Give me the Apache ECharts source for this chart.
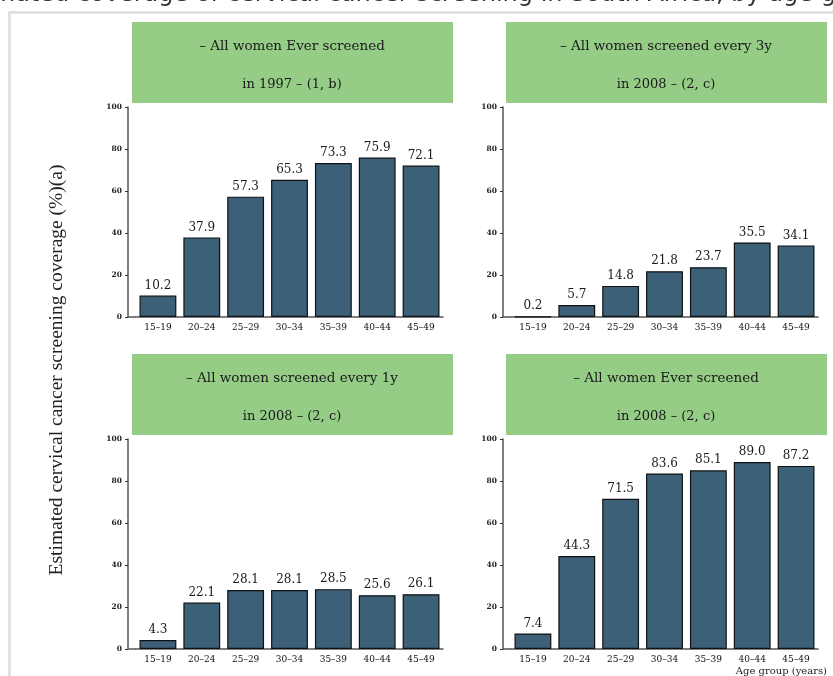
<!DOCTYPE html>
<html>
<head>
<meta charset="utf-8">
<title>Cervical cancer screening coverage</title>
<script src="https://cdn.jsdelivr.net/npm/echarts@6/dist/echarts.min.js"></script>
<style>
  html, body { margin: 0; padding: 0; background: #fff; }
  #chart { width: 833px; height: 676px; }
</style>
</head>
<body>
<div id="chart"></div>
<script>
// age groups shared by all four panels
var ageGroups = ['15\u201319', '20\u201324', '25\u201329', '30\u201334', '35\u201339', '40\u201344', '45\u201349'];
var yTicks = [0, 20, 40, 60, 80, 100];

var everScreened1997 = [10.2, 37.9, 57.3, 65.3, 73.3, 75.9, 72.1];
var every3y2008 = [0.2, 5.7, 14.8, 21.8, 23.7, 35.5, 34.1];
var every1y2008 = [4.3, 22.1, 28.1, 28.1, 28.5, 25.6, 26.1];
var everScreened2008 = [7.4, 44.3, 71.5, 83.6, 85.1, 89.0, 87.2];

var panelTitles = [
  ['\u2013 All women Ever screened', 'in 1997 \u2013 (1, b)'],
  ['\u2013 All women screened every 3y', 'in 2008 \u2013 (2, c)'],
  ['\u2013 All women screened every 1y', 'in 2008 \u2013 (2, c)'],
  ['\u2013 All women Ever screened', 'in 2008 \u2013 (2, c)']
];
var panelData = [everScreened1997, every3y2008, every1y2008, everScreened2008];

var serif = '"DejaVu Serif", serif';
var barColor = '#3d6079';

// layout of the 2x2 panels
var panels = [
  { left: 136, top: 107, boxX: 132, boxY: 22 },
  { left: 511, top: 107, boxX: 506, boxY: 22 },
  { left: 136, top: 439, boxX: 132, boxY: 354 },
  { left: 511, top: 439, boxX: 506, boxY: 354 }
];

var grids = [], xAxes = [], yAxes = [], series = [], graphics = [];

panels.forEach(function (p, i) {
  grids.push({ left: p.left, top: p.top, width: 307, height: 210 });
  xAxes.push({
    type: 'category', gridIndex: i, data: ageGroups,
    axisLine: { lineStyle: { color: '#555', width: 1.5 } },
    axisTick: { show: false },
    axisLabel: { fontFamily: serif, fontSize: 9, color: '#111', margin: 6, interval: 0 }
  });
  yAxes.push({
    type: 'value', gridIndex: i, min: 0, max: 100, interval: 20, offset: 8,
    axisLine: { show: true, lineStyle: { color: '#555', width: 1.5 } },
    axisTick: { show: true, length: 3, lineStyle: { color: '#333' } },
    axisLabel: { fontFamily: serif, fontSize: 7.5, fontWeight: 'bold', color: '#222', margin: 6,
      formatter: function (v) { return yTicks.indexOf(v) >= 0 ? String(v) : ''; } },
    splitLine: { show: false }
  });
  series.push({
    type: 'bar', xAxisIndex: i, yAxisIndex: i, data: panelData[i],
    barCategoryGap: '16%',
    itemStyle: { color: barColor, borderColor: '#111', borderWidth: 1.2 },
    label: {
      show: true, position: 'top', distance: 4,
      fontFamily: serif, fontSize: 12, color: '#1a1a1a',
      formatter: function (d) { return d.value.toFixed(1); }
    }
  });
  // x axis line runs on to the offset y axis
  graphics.push({
    type: 'line', silent: true,
    shape: { x1: p.left - 8, y1: p.top + 210, x2: p.left, y2: p.top + 210 },
    style: { stroke: '#555', lineWidth: 1.5 }
  });
  graphics.push({
    type: 'rect', left: p.boxX, top: p.boxY,
    shape: { width: 321, height: 81 },
    style: { fill: '#95cd86' }
  });
  graphics.push({
    type: 'text', x: p.boxX + 160, y: p.boxY + 24,
    style: { text: panelTitles[i][0], font: '13.5px ' + serif, fill: '#1a1a1a',
      textAlign: 'center', textVerticalAlign: 'middle' }
  });
  graphics.push({
    type: 'text', x: p.boxX + 160, y: p.boxY + 63,
    style: { text: panelTitles[i][1], font: '13px ' + serif, fill: '#1a1a1a',
      textAlign: 'center', textVerticalAlign: 'middle' }
  });
});

// light frame round the figure
graphics.push({
  type: 'polyline', silent: true,
  shape: { points: [[9.5, 700], [9.5, 12.5], [860, 12.5]] },
  style: { stroke: '#dcdcdc', lineWidth: 2.5, fill: null }
});
// main title, mostly cut off at the top of the picture
graphics.push({
  type: 'text', x: -52, y: 7,
  style: { text: 'Estimated coverage of cervical cancer screening in South Africa, by age group',
    font: '24px "DejaVu Sans", sans-serif', fill: '#333',
    textAlign: 'left', textVerticalAlign: 'bottom' }
});
// shared y axis title
graphics.push({
  type: 'text', x: 57, y: 370, rotation: Math.PI / 2,
  style: { text: 'Estimated cervical cancer screening coverage (%)(a)',
    font: '19.5px "Liberation Serif", serif', fill: '#222',
    textAlign: 'center', textVerticalAlign: 'middle' }
});
// shared x axis title
graphics.push({
  type: 'text', x: 827, y: 671,
  style: { text: 'Age group (years)', font: '10px ' + serif, fill: '#222',
    textAlign: 'right', textVerticalAlign: 'middle' }
});

var myChart = echarts.init(document.getElementById('chart'));
myChart.setOption({
  animation: false,
  grid: grids,
  xAxis: xAxes,
  yAxis: yAxes,
  series: series,
  graphic: graphics
});
</script>
</body>
</html>
